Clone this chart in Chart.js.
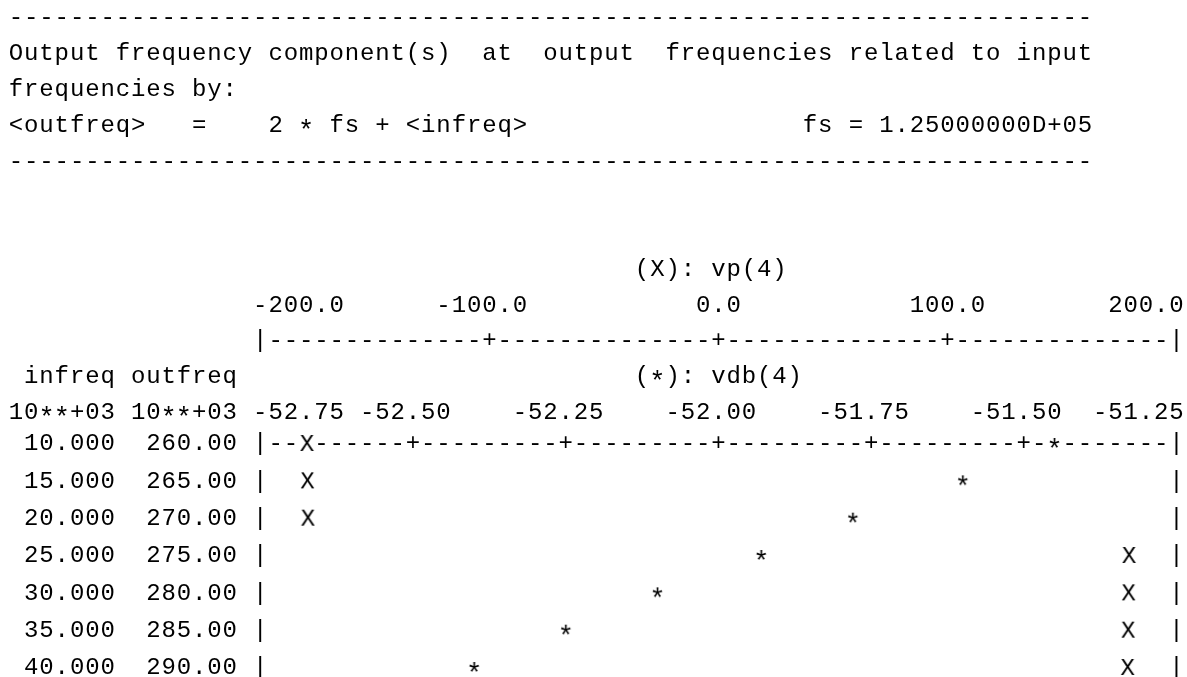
<!DOCTYPE html>
<html>
<head>
<meta charset="utf-8">
<title>vp(4) / vdb(4)</title>
<script src="https://cdn.jsdelivr.net/npm/chart.js@4.4.1/dist/chart.umd.min.js"></script>
<style>
  html, body { margin: 0; padding: 0; background: #fff; }
  #wrap { width: 1187px; height: 677px; }
</style>
</head>
<body>
<div id="wrap"><canvas id="plot" width="1187" height="677"></canvas></div>
<script>
// --------------------------------
// || Data
// --------------------------------

// input / output frequencies, units of 10**+03
const infreq = [10, 15, 20, 25, 30, 35, 40];
const outfreq = [260, 265, 270, 275, 280, 285, 290];

// (X): vp(4), degrees
const vp4 = [-179.6, -179.4, -179.2, 179.3, 179.1, 178.9, 178.7];
// (*): vdb(4), dB
const vdb4 = [-51.45, -51.60, -51.78, -51.93, -52.10, -52.25, -52.40];

const vpTicks = [-200, -100, 0, 100, 200];
const vdbTicks = [-52.75, -52.50, -52.25, -52.00, -51.75, -51.50, -51.25];

// --------------------------------
// || Layout of the text grid
// --------------------------------

const FONT = '24px "Liberation Mono", "DejaVu Sans Mono", monospace';
const STAR_FONT = '27px "Liberation Mono", "DejaVu Sans Mono", monospace';
const STAR_DROP = 6;      // the '*' sits on the dash line, not up high
const CW = 15.27;         // one character cell
const COL0 = 16;          // centre of column 0
const LH = 35.9;          // one text line in the header part
const LINE0 = 18;         // centre of line 0
const ROW_TOP = 444;      // centre of first data row
const ROW_BOTTOM = 668;   // centre of last data row
const PLOT_FIRST = 16;    // column of the left '|'
const PLOT_COLS = 60;     // plot width in characters
const FIRST_ROW_LINE = 12;

const DASHES = '-'.repeat(71);
const header = [
    [0, DASHES],
    [1, 'Output frequency component(s)  at  output  frequencies related to input'],
    [2, 'frequencies by:'],
    [3, '<outfreq>   =    2 * fs + <infreq>'],
    [4, DASHES]
];

// glyph used as point style, white box so the dashes under it vanish
function glyph(ch) {
    const c = document.createElement('canvas');
    c.width = 15;
    c.height = 26;
    const g = c.getContext('2d');
    g.fillStyle = '#fff';
    g.fillRect(0, 0, c.width, c.height);
    g.fillStyle = '#000';
    g.textAlign = 'center';
    g.textBaseline = 'middle';
    if (ch === '*') {
        g.font = STAR_FONT;
        g.fillText(ch, c.width / 2, c.height / 2 + 1 + STAR_DROP);
    } else {
        g.font = FONT;
        g.fillText(ch, c.width / 2, c.height / 2 + 1);
    }
    return c;
}

// label centred on its tick, kept inside the plot and apart from each other
function placeLabels(labels, cols, minCol, maxCol) {
    const out = [];
    let prevEnd = minCol - 2;
    labels.forEach((s, i) => {
        let start = cols[i] - Math.floor(s.length / 2);
        if (start + s.length - 1 > maxCol) start = maxCol - s.length + 1;
        if (start < prevEnd + 2) start = prevEnd + 2;
        out.push([start, s]);
        prevEnd = start + s.length - 1;
    });
    return out;
}

const asciiFrame = {
    id: 'asciiFrame',
    beforeDatasetsDraw(chart) {
        const ctx = chart.ctx;
        const xp = chart.scales.xp;
        const xd = chart.scales.xd;
        const y = chart.scales.y;

        const x16 = xd.getPixelForValue(vdbTicks[0]);
        const cw = (xd.getPixelForValue(vdbTicks[vdbTicks.length - 1]) - x16) / PLOT_COLS;
        const colX = c => x16 + (c - PLOT_FIRST) * cw;
        const lineY = k => LINE0 + k * LH;
        const colOf = (scale, v) => PLOT_FIRST + Math.round((scale.getPixelForValue(v) - x16) / cw);

        ctx.save();
        ctx.fillStyle = '#fff';
        ctx.fillRect(0, 0, chart.width, chart.height);
        ctx.fillStyle = '#000';
        ctx.textAlign = 'center';
        ctx.textBaseline = 'middle';

        const putAt = (col, str, yy) => {
            for (let i = 0; i < str.length; i++) {
                const ch = str[i];
                if (ch === ' ') continue;
                if (ch === '*') {
                    ctx.font = STAR_FONT;
                    ctx.fillText(ch, colX(col + i), yy + STAR_DROP);
                } else {
                    ctx.font = FONT;
                    ctx.fillText(ch, colX(col + i), yy);
                }
            }
        };
        const put = (col, str, k) => putAt(col, str, lineY(k));

        header.forEach(([k, s]) => put(0, s, k));
        const fsText = 'fs = 1.25000000D+05';
        put(DASHES.length - fsText.length, fsText, 3);

        // (X) axis
        const last = PLOT_FIRST + PLOT_COLS;
        put(41, '(X): vp(4)', 7);
        const vpCols = vpTicks.map(v => colOf(xp, v));
        placeLabels(vpTicks.map(v => v.toFixed(1)), vpCols, PLOT_FIRST, last)
            .forEach(([c, s]) => put(c, s, 8));
        let line = '';
        for (let c = PLOT_FIRST; c <= last; c++) {
            if (c === PLOT_FIRST || c === last) line += '|';
            else line += vpCols.includes(c) ? '+' : '-';
        }
        put(PLOT_FIRST, line, 9);

        // (*) axis
        put(1, 'infreq', 10);
        put(8, 'outfreq', 10);
        put(41, '(*): vdb(4)', 10);
        put(0, '10**+03', 11);
        put(8, '10**+03', 11);
        const vdbCols = vdbTicks.map(v => colOf(xd, v));
        placeLabels(vdbTicks.map(v => v.toFixed(2)), vdbCols, PLOT_FIRST, last)
            .forEach(([c, s]) => put(c, s, 11));

        // rows
        infreq.forEach((f, i) => {
            const yy = y.getPixelForValue(f);
            putAt(1, f.toFixed(3), yy);
            putAt(9, outfreq[i].toFixed(2), yy);
            if (i === 0) {
                let l = '';
                for (let c = PLOT_FIRST; c <= last; c++) {
                    if (c === PLOT_FIRST || c === last) l += '|';
                    else l += vdbCols.includes(c) ? '+' : '-';
                }
                putAt(PLOT_FIRST, l, yy);
            } else {
                putAt(PLOT_FIRST, '|', yy);
                putAt(last, '|', yy);
            }
        });
        ctx.restore();
    }
};

// --------------------------------
// || Chart
// --------------------------------

const W = 1187, H = 677;
const padLeft = COL0 + PLOT_FIRST * CW;
const padRight = W - (COL0 + (PLOT_FIRST + PLOT_COLS) * CW);

new Chart(document.getElementById('plot'), {
    type: 'scatter',
    data: {
        datasets: [{
            label: '(X): vp(4)',
            data: infreq.map((f, i) => ({ x: vp4[i], y: f })),
            xAxisID: 'xp',
            pointStyle: glyph('X'),
            pointRadius: 6,
            clip: false
        }, {
            label: '(*): vdb(4)',
            data: infreq.map((f, i) => ({ x: vdb4[i], y: f })),
            xAxisID: 'xd',
            pointStyle: glyph('*'),
            pointRadius: 6,
            clip: false
        }]
    },
    options: {
        responsive: false,
        animation: false,
        devicePixelRatio: 1,
        layout: {
            padding: { left: padLeft, right: padRight, top: ROW_TOP, bottom: H - ROW_BOTTOM }
        },
        plugins: {
            legend: { display: false },
            tooltip: { enabled: false }
        },
        scales: {
            xp: { type: 'linear', min: vpTicks[0], max: vpTicks[vpTicks.length - 1], display: false },
            xd: { type: 'linear', min: vdbTicks[0], max: vdbTicks[vdbTicks.length - 1], display: false },
            y: { type: 'linear', min: infreq[0], max: infreq[infreq.length - 1], reverse: true, display: false }
        }
    },
    plugins: [asciiFrame]
});
</script>
</body>
</html>
